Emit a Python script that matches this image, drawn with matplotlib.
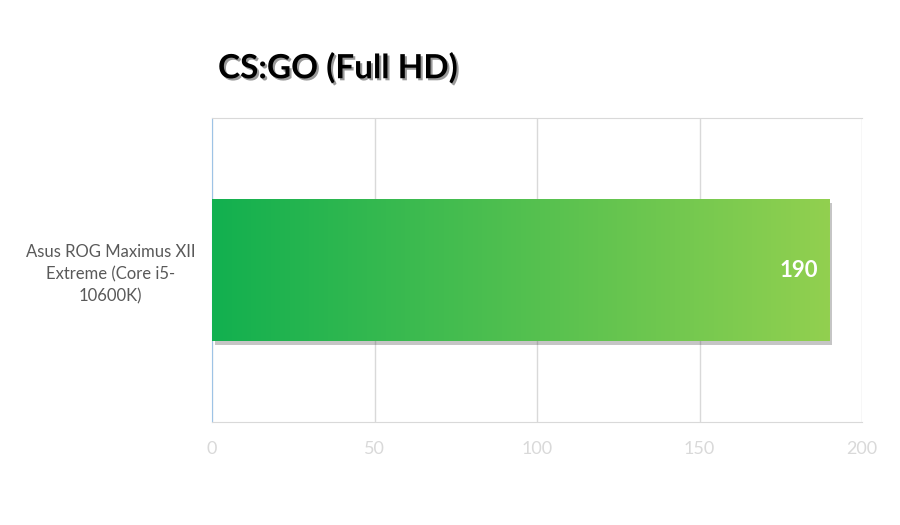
import numpy as np
import matplotlib.pyplot as plt
import matplotlib.patheffects as pe
from matplotlib.colors import LinearSegmentedColormap

#----------chart data---------------------------------------------------------
boards = ['Asus ROG Maximus XII\nExtreme (Core i5-\n10600K)']
fps = [190]
x_ticks = [0, 50, 100, 150, 200]
title = 'CS:GO (Full HD)'

plt.rcParams['font.family'] = ['Lato', 'DejaVu Sans']

fig = plt.figure(figsize=(9, 5.25), dpi=100)
ax = fig.add_axes([0.2356, 0.1962, 0.7222, 0.579])

#------bar with shadow, then gradient fill clipped to it----------------------
bars = ax.barh(range(len(boards)), fps, height=0.467, color='#5cc04f', zorder=2,
               path_effects=[pe.SimplePatchShadow(offset=(2, -3), alpha=0.3, shadow_rgbFace='#404040'),
                             pe.Normal()])
grad = LinearSegmentedColormap.from_list('g', ['#12b04f', '#92d050'])
for b in bars:
    x0, y0, w, h = b.get_x(), b.get_y(), b.get_width(), b.get_height()
    im = ax.imshow(np.linspace(0, 1, 256).reshape(1, -1), cmap=grad, aspect='auto',
                   extent=(x0, x0 + w, y0, y0 + h), zorder=3)
    im.set_clip_path(b)
    ax.text(x0 + w - 3.5, y0 + h / 2, str(int(w)), color='white', fontsize=16,
            fontweight='bold', ha='right', va='center', zorder=4)

ax.set_xlim(0, 200)
ax.set_ylim(-0.5, 0.5)
ax.set_xticks(x_ticks)
ax.set_yticks(range(len(boards)))
ax.set_yticklabels(boards, fontsize=12, color='#595959', ha='center', linespacing=1.45)
ax.tick_params(axis='y', length=0, pad=73)
ax.tick_params(axis='x', length=0, labelsize=13, colors='#d9d9d9', pad=14)
ax.xaxis.grid(True, color='#d9d9d9', linewidth=1, zorder=0)
ax.set_axisbelow(True)
for s in ['top', 'bottom', 'right']:
    ax.spines[s].set_color('#d9d9d9')
ax.spines['right'].set_visible(False)
ax.spines['left'].set_color('#9dc3e6')

fig.text(218 / 900, 1 - 68 / 525, title, fontsize=24, fontweight='bold', ha='left', va='center',
         path_effects=[pe.withSimplePatchShadow(offset=(1.5, -1.5), alpha=0.4)])

plt.savefig('out.png', dpi=100)
